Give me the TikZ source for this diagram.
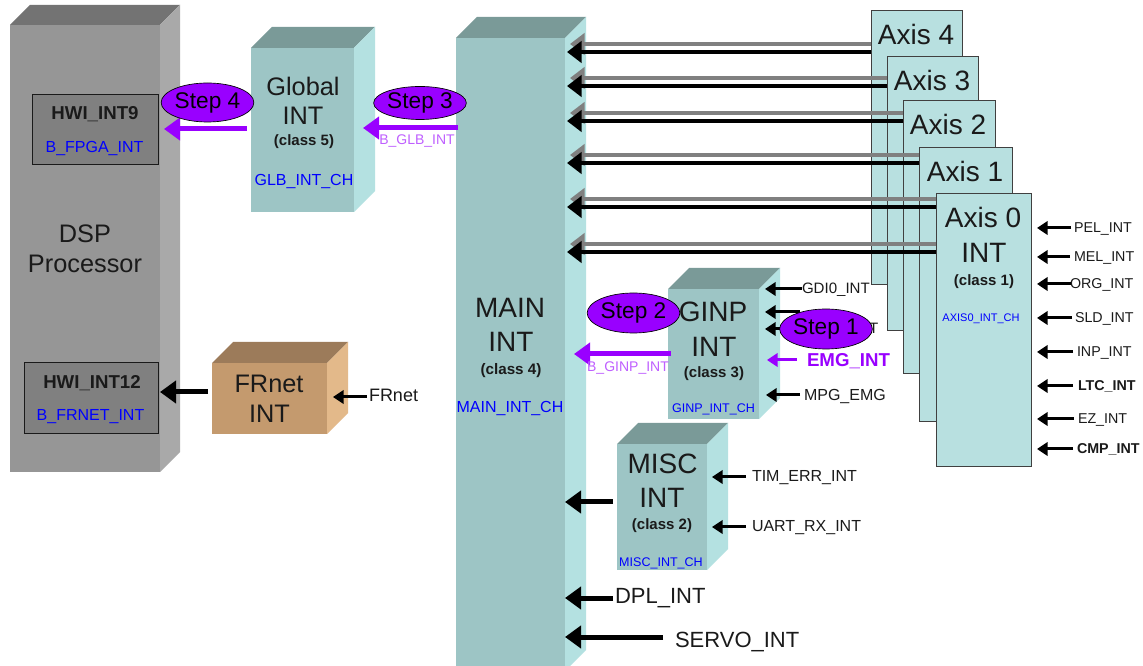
\documentclass[tikz,border=0pt]{standalone}
\usepackage{fontspec}
\setmainfont{Liberation Sans}
\usetikzlibrary{arrows.meta,calc,fit,shapes.geometric}

\definecolor{tealF}{HTML}{9DC5C5}
\definecolor{tealT}{HTML}{7A9A98}
\definecolor{tealS}{HTML}{B4E1E1}
\definecolor{axisF}{HTML}{B8E0E0}
\definecolor{grayF}{HTML}{969696}
\definecolor{grayT}{HTML}{737373}
\definecolor{grayS}{HTML}{A9A9A9}
\definecolor{hwiF}{HTML}{808080}
\definecolor{tanF}{HTML}{C49A6E}
\definecolor{tanT}{HTML}{9C7B5A}
\definecolor{tanS}{HTML}{E3B98A}
\definecolor{stepviolet}{HTML}{9900FF}
\definecolor{lilac}{HTML}{BF5FFF}
\definecolor{chblue}{HTML}{0000FF}
\definecolor{shadowgray}{HTML}{808080}
\definecolor{txtdark}{HTML}{1A1A1A}

\newcommand{\fsz}[1]{\fontsize{#1}{#1}\selectfont}

% 3-D box: name, x1, y1, x2, y2 (front face), depth, front, top, side colours
\newcommand{\cubebox}[9]{%
  \fill[#8] (#2,#3) -- (#2+#6,#3-#6) -- (#4+#6,#3-#6) -- (#4,#3) -- cycle;
  \fill[#9] (#4,#3) -- (#4+#6,#3-#6) -- (#4+#6,#5-#6) -- (#4,#5) -- cycle;
  \node[fit={(#2,#3) (#4,#5)}, inner sep=0pt, outer sep=0pt, fill=#7] (#1) {};
}

\begin{document}
\begin{tikzpicture}[x=0.75pt,y=-0.75pt,
  lbl/.style={inner sep=0pt, outer sep=0pt, text=txtdark},
  ctxt/.style={lbl, anchor=base},
  ltxt/.style={lbl, anchor=base west},
  bigarrow/.style={line width=3.75pt, -{Triangle[length=12pt,width=16.5pt]}},
  axarrow/.style={line width=3pt, -{Triangle[length=11pt,width=16pt]}},
  shadowarrow/.style={axarrow, draw=shadowgray},
  inarrow/.style={line width=2.25pt, -{Triangle[length=8pt,width=10pt]}},
  steparrow/.style={line width=3.75pt, draw=stepviolet, -{Triangle[length=12pt,width=16.5pt]}},
  smallsteparrow/.style={line width=2.25pt, draw=stepviolet, -{Triangle[length=8pt,width=10pt]}},
  stepbubble/.style={ellipse, draw=black, line width=0.5pt, fill=stepviolet, inner sep=0pt,
    minimum width=65pt, minimum height=30pt, font=\fsz{17pt}},
  hwibox/.style={draw=txtdark, line width=0.75pt, fill=hwiF, inner sep=0pt, outer sep=0pt},
  axisbox/.style={draw=black!75, line width=0.75pt, fill=axisF, inner sep=0pt, outer sep=0pt},
  bigfont/.style={font=\fsz{21pt}},
  midfont/.style={font=\fsz{19pt}},
  classfont/.style={font=\bfseries\fsz{11.25pt}},
  chfont/.style={font=\fsz{12pt}, text=chblue},
]
\useasboundingbox (0,0) rectangle (1143,666);
\fill[white] (0,0) rectangle (1143,666);

% ---------------- DSP processor ----------------
\cubebox{dsp}{10}{25}{160}{472}{20}{grayF}{grayT}{grayS}
\node[ctxt, midfont] (dspA) at (85,243) {DSP};
\node[ctxt, midfont] (dspB) at (85,273) {Processor};
\node[hwibox, fit={(32,95) (158,165)}] (hwi9) {};
\node[ctxt, font=\bfseries\fsz{14pt}] (hwi9a) at (95,120) {HWI\_INT9};
\node[ctxt, chfont] (hwi9b) at (94.5,153) {B\_FPGA\_INT};
\node[hwibox, fit={(24,363) (158,434)}] (hwi12) {};
\node[ctxt, font=\bfseries\fsz{14pt}] (hwi12a) at (92,389) {HWI\_INT12};
\node[ctxt, chfont] (hwi12b) at (90.5,421) {B\_FRNET\_INT};

% ---------------- Global INT ----------------
\cubebox{glb}{251}{48}{354}{212}{21}{tealF}{tealT}{tealS}
\node[ctxt, midfont] (glbA) at (303,96) {Global};
\node[ctxt, midfont] (glbB) at (303,125) {INT};
\node[ctxt, classfont] (glbC) at (304,146) {(class 5)};
\node[ctxt, chfont] (glbD) at (304,186) {GLB\_INT\_CH};

% ---------------- FRnet INT ----------------
\cubebox{fr}{212}{363}{327}{434}{21}{tanF}{tanT}{tanS}
\node[ctxt, midfont] (frA) at (269,393) {FRnet};
\node[ctxt, midfont] (frB) at (269.5,423) {INT};
\node[ltxt, font=\fsz{13.5pt}] (frin) at (369,402) {FRnet};
\draw[inarrow] ($(frin.west|-0,397)+(-2,0)$) -- ($(fr.east|-0,397)+(6,0)$);
\draw[bigarrow] ($(fr.west|-0,392)+(-4,0)$) -- ($(hwi12.east|-0,392)+(2,0)$);

% ---------------- MAIN INT ----------------
\cubebox{main}{456}{38}{565}{671}{21}{tealF}{tealT}{tealS}
\node[ctxt, bigfont] (mainA) at (510,318) {MAIN};
\node[ctxt, bigfont] (mainB) at (511,352) {INT};
\node[ctxt, font=\bfseries\fsz{11.4pt}] (mainC) at (511,375) {(class 4)};
\node[ctxt, chfont] (mainD) at (510,413) {MAIN\_INT\_CH};

% ---------------- GINP INT ----------------
\cubebox{ginp}{668}{289}{759}{419}{21}{tealF}{tealT}{tealS}
\node[ctxt, bigfont] (ginpA) at (713,322) {GINP};
\node[ctxt, bigfont] (ginpB) at (714,357) {INT};
\node[ctxt, classfont] (ginpC) at (714,378) {(class 3)};
\node[ctxt, font=\fsz{9.4pt}, text=chblue] (ginpD) at (713.5,413) {GINP\_INT\_CH};

% ---------------- MISC INT ----------------
\cubebox{misc}{617}{444}{707}{570}{21}{tealF}{tealT}{tealS}
\node[ctxt, bigfont] (miscA) at (662.5,474) {MISC};
\node[ctxt, bigfont] (miscB) at (662,508) {INT};
\node[ctxt, classfont] (miscC) at (662,530) {(class 2)};
\node[ctxt, font=\fsz{9.4pt}, text=chblue] (miscD) at (661,566) {MISC\_INT\_CH};

% ---------------- Axis stack ----------------
\node[axisbox, fit={(871,11) (962,285)}] (ax4) {};
\node[ctxt, bigfont] (ax4t) at (916,45) {Axis 4};
\node[axisbox, fit={(887,57) (978,331)}] (ax3) {};
\node[ctxt, bigfont] (ax3t) at (932,91) {Axis 3};
\node[axisbox, fit={(903,101) (995,374)}] (ax2) {};
\node[ctxt, bigfont] (ax2t) at (948,135) {Axis 2};
\node[axisbox, fit={(919,148) (1012,422)}] (ax1) {};
\node[ctxt, bigfont] (ax1t) at (965,182) {Axis 1};
\node[axisbox, fit={(936,194) (1031,467)}] (ax0) {};
\node[ctxt, bigfont] (ax0t) at (983,228) {Axis 0};
\node[ctxt, bigfont] (ax0u) at (984,263) {INT};
\node[ctxt, classfont] (ax0v) at (984,286) {(class 1)};
\node[ctxt, font=\fsz{8.25pt}, text=chblue] (ax0w) at (981,322) {AXIS0\_INT\_CH};

% axis interrupts into MAIN (with drop shadow)
\foreach \src/\yy in {ax4/52, ax3/86, ax2/121, ax1/163, ax0/207, ax0/252} {
  \draw[shadowarrow] ($(\src.west|-0,\yy)+(0,-8)$) -- ($(main.east|-0,\yy)+(5,-8)$);
  \draw[axarrow] (\src.west|-0,\yy) -- ($(main.east|-0,\yy)+(2,0)$);
}

% axis 0 sources
\node[ltxt, font=\fsz{10.7pt}] (pel) at (1074,233) {PEL\_INT};
\node[ltxt, font=\fsz{10.7pt}] (mel) at (1074,262) {MEL\_INT};
\node[ltxt, font=\fsz{10.7pt}] (org) at (1070,289) {ORG\_INT};
\node[ltxt, font=\fsz{10.7pt}] (sld) at (1075,323) {SLD\_INT};
\node[ltxt, font=\fsz{10.7pt}] (inp) at (1077,357) {INP\_INT};
\node[ltxt, font=\bfseries\fsz{10.7pt}] (ltc) at (1078,391) {LTC\_INT};
\node[ltxt, font=\fsz{10.7pt}] (ez) at (1078,424) {EZ\_INT};
\node[ltxt, font=\bfseries\fsz{10.7pt}] (cmp) at (1077,454) {CMP\_INT};
\foreach \src/\yy/\gap in {pel/228/-3, mel/257/-4, org/284/1, sld/318/-3, inp/352/-4, ltc/386/-5, ez/419/-4, cmp/449/-4} {
  \draw[inarrow] ($(\src.west|-0,\yy)+(\gap,0)$) -- ($(ax0.east|-0,\yy)+(6,0)$);
}

% ---------------- GINP sources ----------------
\node[ltxt, font=\fsz{11.3pt}] (gdi0) at (802,294) {GDI0\_INT};
\draw[inarrow] (gdi0.west|-0,289) -- ($(ginp.east|-0,289)+(6,0)$);
\coordinate (gsrcA) at (800,312);
\coordinate (gsrcB) at (800,329);
\draw[inarrow] (gsrcA) -- ($(ginp.east|-gsrcA)+(6,0)$);
\draw[inarrow] (gsrcB) -- ($(ginp.east|-gsrcB)+(6,0)$);
\node[ltxt, font=\fsz{11.3pt}] (gdiT) at (869,334) {T};
\node[ltxt, font=\bfseries\fsz{14pt}, text=stepviolet] (emg) at (807,367) {EMG\_INT};
\draw[smallsteparrow] ($(emg.west|-0,360)+(-10,0)$) -- ($(ginp.east|-0,360)+(8,0)$);
\node[ltxt, font=\fsz{12pt}] (mpg) at (804,401) {MPG\_EMG};
\draw[inarrow] ($(mpg.west|-0,395)+(-4,0)$) -- ($(ginp.east|-0,395)+(7,0)$);

% ---------------- MISC sources ----------------
\draw[bigarrow] ($(misc.west|-0,502)+(-4,0)$) -- (main.east|-0,502);
\node[ltxt, font=\fsz{12pt}] (tim) at (752,482) {TIM\_ERR\_INT};
\draw[inarrow] ($(tim.west|-0,477)+(-6,0)$) -- ($(misc.east|-0,477)+(5,0)$);
\node[ltxt, font=\fsz{12pt}] (uart) at (752,532) {UART\_RX\_INT};
\draw[inarrow] ($(uart.west|-0,527)+(-6,0)$) -- ($(misc.east|-0,527)+(5,0)$);

% ---------------- direct MAIN sources ----------------
\node[ltxt, font=\fsz{16.5pt}] (dpl) at (615,603) {DPL\_INT};
\draw[bigarrow] ($(dpl.west|-0,598)+(-2,0)$) -- (main.east|-0,598);
\node[ltxt, font=\fsz{16.5pt}] (servo) at (675,647) {SERVO\_INT};
\draw[bigarrow] ($(servo.west|-0,637)+(-12,0)$) -- (main.east|-0,637);

% ---------------- interrupt steps ----------------
\draw[steparrow] ($(ginp.west|-0,354)+(3,0)$) -- ($(main.east|-0,354)+(9,0)$);
\node[ctxt, font=\fsz{10.5pt}, text=lilac] (bginp) at (628,372) {B\_GINP\_INT};
\draw[steparrow] ($(main.west|-0,128)+(2,0)$) -- ($(glb.east|-0,128)+(9,0)$);
\node[ctxt, font=\fsz{10.5pt}, text=lilac] (bglb) at (417,145) {B\_GLB\_INT};
\draw[steparrow] ($(glb.west|-0,129)+(-4,0)$) -- ($(hwi9.east|-0,129)+(6,0)$);

\node[stepbubble] (step1) at (826,329) {Step 1};
\node[stepbubble] (step2) at (633.5,313) {Step 2};
\node[stepbubble, minimum height=24.75pt] (step3) at (420,103) {Step 3};
\node[stepbubble, minimum height=29.25pt] (step4) at (207.5,102.5) {Step 4};
\end{tikzpicture}
\end{document}
